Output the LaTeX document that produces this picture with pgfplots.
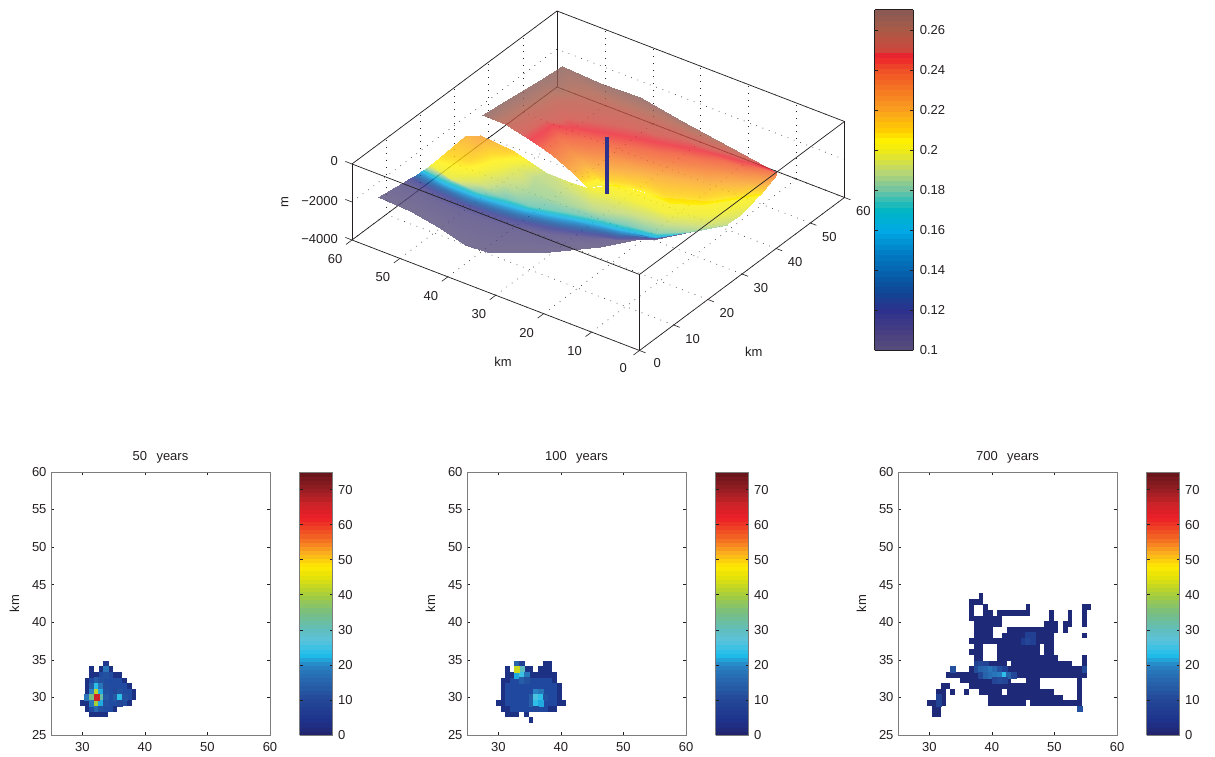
\documentclass[border=0pt]{standalone}
\usepackage{fontspec}
\setmainfont{Liberation Sans}
\usepackage{pgfplots}
\pgfplotsset{compat=1.18}
\definecolor{inkc}{RGB}{35,31,32}
\definecolor{boxgrey}{RGB}{125,125,125}
\pgfplotsset{
 colormap={topmap}{
  rgb255(100)=(88,78,122); rgb255(110)=(70,62,130); rgb255(120)=(45,48,140); rgb255(130)=(15,72,150);
  rgb255(140)=(5,100,175); rgb255(150)=(0,130,200); rgb255(160)=(0,170,230); rgb255(170)=(0,180,195);
  rgb255(175)=(50,190,180); rgb255(180)=(110,195,165); rgb255(190)=(190,215,110); rgb255(200)=(240,235,20);
  rgb255(205)=(255,240,0); rgb255(210)=(255,205,0); rgb255(220)=(250,160,30); rgb255(230)=(245,120,35);
  rgb255(240)=(240,80,40); rgb255(247)=(235,30,45); rgb255(250)=(205,70,60); rgb255(260)=(170,90,70); rgb255(270)=(135,90,85)},
 colormap={botmap}{
  rgb255(0)=(35,35,105); rgb255(4)=(30,50,140); rgb255(10)=(35,70,150); rgb255(17)=(40,110,180);
  rgb255(20)=(40,130,195); rgb255(23)=(30,190,235); rgb255(27)=(90,195,220); rgb255(30)=(95,190,190);
  rgb255(35)=(120,190,130); rgb255(40)=(165,205,60); rgb255(45)=(225,225,10); rgb255(48)=(255,235,0);
  rgb255(52)=(250,175,30); rgb255(55)=(245,125,35); rgb255(58)=(240,80,35); rgb255(62)=(235,30,40);
  rgb255(66)=(205,35,40); rgb255(70)=(150,30,35); rgb255(75)=(100,20,25)},
 mytxt/.style={tick label style={font=\fontsize{13}{15}\selectfont, text=inkc, /pgf/number format/assume math mode=true},
   label style={font=\fontsize{13}{15}\selectfont, text=inkc}, title style={font=\fontsize{13}{15}\selectfont, text=inkc}},
 mypanel/.style={mytxt, scale only axis, width=219pt, height=263pt, xmin=25, xmax=60, ymin=25, ymax=60,
   xtick={30,40,50,60}, ytick={25,30,...,60}, tick align=inside, major tick length=3pt,
   axis line style={boxgrey, line width=0.8pt}, tick style={inkc, line width=0.5pt},
   xticklabel style={yshift=-4pt}, yticklabel style={xshift=-1pt},
   ylabel=km, ylabel style={at={(axis description cs:-0.129,0.5)}}, title style={at={(axis description cs:0.5,0.998)}},
   clip=false, colormap name=botmap, point meta min=0, point meta max=75,
   colorbar, colorbar sampled,
   colorbar style={samples=65, mytxt, at={(parent axis.south east)}, anchor=south west, xshift=21pt, width=33pt, height=263pt,
     ytick={0,10,...,70}, ymin=0, ymax=75, tick align=inside, major tick length=3pt, yticklabel pos=right, yticklabel style={xshift=2pt},
     axis line style={boxgrey, line width=0.8pt}, tick style={inkc, line width=0.5pt}, ylabel={}, title={}}},
 heatcell/.style={scatter, only marks, mark=square*, mark size=2.4pt, mark options={yscale=1.2},
   scatter/use mapped color={draw=mapped color, fill=mapped color}, point meta=\thisrow{v}},
 heatrun/.style={no marks, line width=5.8pt, line cap=butt, unbounded coords=jump, forget plot},
}
\begin{document}
\begin{tikzpicture}
\useasboundingbox (0,0) rectangle (1215pt,757pt);
% ---------- 3D panel ----------
\begin{axis}[mytxt, at={(639.5pt,482.5pt)}, anchor=origin,
  x={(3.4167pt,2.55pt)}, y={(-4.7917pt,1.8417pt)}, z={(0pt,0.019pt)},
  xmin=0, xmax=60, ymin=0, ymax=60, zmin=-4000, zmax=0,
  xtick={0,10,...,60}, ytick={0,10,...,60}, ztick={-4000,-2000,0}, zticklabels={−4000,−2000,0},
  axis lines=box, 3d box=complete, tick align=outside, major tick length=6pt, clip=false,
  xtick pos=left, ytick pos=left, ztick pos=left,
  xticklabel style={xshift=6pt, yshift=-1pt}, yticklabel style={xshift=-7pt, yshift=-5pt}, zticklabel style={xshift=-5pt, yshift=2pt},
  xmajorgrids, ymajorgrids, zmajorgrids, major grid style={inkc, line width=0.6pt, dash pattern=on 0.7pt off 6pt},
  axis line style={inkc, line width=0.7pt}, tick style={draw=none},
  colormap name=topmap, point meta min=0.1, point meta max=0.27,
  colorbar, colorbar sampled,
  colorbar style={samples=65, mytxt, at={(parent axis.south east)}, anchor=south west, xshift=21.8pt, width=38.4pt, height=340.7pt,
     ytick={0.1,0.12,...,0.26}, yticklabels={0.1,0.12,0.14,0.16,0.18,0.2,0.22,0.24,0.26}, ymin=0.1, ymax=0.27, tick align=inside, major tick length=3pt, yticklabel pos=right, yticklabel style={xshift=3pt},
     axis line style={inkc, line width=0.8pt}, tick style={inkc, line width=0.5pt}, ylabel={}, title={}},
]
% lower lobe and slope
\addplot3[surf, shader=interp, mesh/cols=11, opacity=0.8, z buffer=default, point meta=\thisrow{c}] table {
x y z c
26.51 55.33 -1632 0.218
28.26 53.44 -1632 0.222
27.57 46.26 -1632 0.212
26.25 41.57 -1632 0.200
25.10 37.20 -1632 0.190
25.06 32.37 -1632 0.195
25.29 28.78 -1632 0.200
29.01 25.81 -1632 0.205
30.13 17.21 -1632 0.205
34.06 9.58 -1632 0.205
41.11 4.17 -1632 0.205
19.37 55.44 -1789 0.208
21.58 50.76 -1789 0.210
24.06 47.32 -1789 0.205
24.50 43.45 -1789 0.198
23.38 38.49 -1789 0.188
23.26 32.13 -1789 0.190
24.20 27.59 -1789 0.195
27.16 22.40 -1789 0.200
27.52 14.30 -1789 0.200
31.47 7.73 -1789 0.200
38.50 3.97 -1789 0.200
17.34 56.09 -2000 0.200
15.97 50.94 -2000 0.197
17.65 45.87 -2000 0.193
20.14 42.43 -2000 0.190
20.30 37.32 -2000 0.185
20.93 30.47 -2000 0.185
22.10 25.05 -2000 0.188
24.55 19.49 -2000 0.190
26.27 12.77 -2000 0.192
29.17 7.13 -2000 0.192
35.24 4.15 -2000 0.195
17.36 57.14 -2316 0.180
16.74 51.49 -2316 0.178
16.67 45.60 -2316 0.178
17.81 40.77 -2316 0.178
18.23 35.85 -2316 0.178
20.16 29.92 -2316 0.178
21.58 24.68 -2316 0.178
22.76 19.26 -2316 0.178
23.87 13.37 -2316 0.180
27.67 9.19 -2316 0.185
33.17 5.39 -2316 0.190
16.96 57.69 -2421 0.160
15.98 51.98 -2421 0.160
15.92 46.10 -2421 0.160
16.53 40.91 -2421 0.160
17.21 36.17 -2421 0.160
19.08 29.78 -2421 0.160
20.51 24.54 -2421 0.160
21.69 19.11 -2421 0.160
23.15 13.27 -2421 0.160
27.93 9.38 -2421 0.180
33.43 5.58 -2421 0.185
16.46 58.38 -2632 0.135
15.74 52.86 -2632 0.135
15.33 46.92 -2632 0.135
15.78 41.41 -2632 0.135
16.45 36.67 -2632 0.135
18.16 29.97 -2632 0.135
20.06 24.63 -2632 0.135
21.49 19.39 -2632 0.135
24.06 13.92 -2632 0.140
28.96 10.11 -2632 0.175
34.47 6.32 -2632 0.180
16.13 59.40 -2842 0.118
15.05 53.83 -2842 0.118
14.63 47.89 -2842 0.118
14.83 42.19 -2842 0.118
15.44 36.99 -2842 0.118
17.15 30.29 -2842 0.118
19.34 24.53 -2842 0.118
21.19 19.80 -2842 0.118
24.97 14.56 -2842 0.120
30.00 10.85 -2842 0.160
35.50 7.05 -2842 0.175
15.07 60.31 -3053 0.106
14.25 54.93 -3053 0.106
13.58 48.81 -3053 0.106
13.77 43.10 -3053 0.106
14.23 37.59 -3053 0.106
16.40 30.79 -3053 0.106
19.14 24.81 -3053 0.106
21.70 20.17 -3053 0.106
25.87 15.21 -3053 0.110
31.03 11.59 -3053 0.110
36.54 7.79 -3053 0.110
11.13 62.51 -3474 0.100
10.69 55.52 -3474 0.100
9.27 48.25 -3474 0.100
7.36 41.67 -3474 0.100
7.74 37.35 -3474 0.100
12.75 29.86 -3474 0.100
20.27 22.70 -3474 0.100
25.56 19.17 -3474 0.100
28.14 16.42 -3474 0.100
33.11 13.07 -3474 0.100
38.61 9.27 -3474 0.100
};
% upper slope
\addplot3[surf, shader=interp, mesh/cols=9, opacity=0.8, z buffer=default, point meta=\thisrow{c}] table {
x y z c
27.17 52.25 -316 0.270
34.36 51.53 -316 0.270
42.00 50.72 -316 0.270
47.81 50.27 -316 0.270
47.19 41.90 -316 0.270
47.55 33.80 -316 0.270
45.58 24.05 -316 0.268
43.56 12.17 -316 0.262
41.67 1.23 -316 0.250
28.42 48.34 -579 0.256
33.82 47.38 -579 0.256
39.61 45.88 -579 0.256
41.90 42.71 -579 0.256
43.98 37.11 -579 0.256
44.40 29.47 -579 0.256
44.49 21.19 -579 0.256
44.06 11.48 -579 0.254
42.96 2.15 -579 0.247
27.78 41.63 -842 0.245
34.13 42.60 -842 0.247
35.60 39.48 -842 0.247
36.63 36.45 -842 0.247
38.31 31.39 -842 0.247
40.18 25.00 -842 0.247
42.39 17.60 -842 0.247
43.72 9.78 -842 0.247
44.25 3.07 -842 0.245
27.66 37.98 -1105 0.235
31.55 38.04 -1105 0.235
32.76 34.74 -1105 0.235
34.23 31.61 -1105 0.235
35.42 27.24 -1105 0.235
37.61 21.50 -1105 0.235
40.30 15.07 -1105 0.235
42.99 8.63 -1105 0.235
45.13 3.49 -1105 0.235
26.54 33.02 -1368 0.220
29.65 32.52 -1368 0.220
30.37 29.90 -1368 0.220
31.84 26.78 -1368 0.220
33.55 22.77 -1368 0.220
35.24 17.72 -1368 0.220
37.68 12.16 -1368 0.220
40.91 7.16 -1368 0.220
44.37 3.99 -1368 0.225
25.29 28.78 -1632 0.200
27.26 27.68 -1632 0.200
28.49 25.44 -1632 0.205
29.46 23.00 -1632 0.205
29.93 20.19 -1632 0.205
29.56 14.72 -1632 0.205
32.03 10.22 -1632 0.205
36.31 7.00 -1632 0.205
40.59 3.80 -1632 0.205
};
\addplot3[line width=4pt, line cap=butt, color={rgb,255:red,45;green,50;blue,140}] coordinates {(34.8,31.6,-500) (34.8,31.6,-3500)};
% outward tick marks on the three labelled edges
\addplot3[no marks, inkc, line width=0.6pt, unbounded coords=jump, forget plot] coordinates {
(0,0,-4000)(-1.76,0,-4000)(nan,nan,nan)
(0,10,-4000)(-1.76,10,-4000)(nan,nan,nan)
(0,20,-4000)(-1.76,20,-4000)(nan,nan,nan)
(0,30,-4000)(-1.76,30,-4000)(nan,nan,nan)
(0,40,-4000)(-1.76,40,-4000)(nan,nan,nan)
(0,50,-4000)(-1.76,50,-4000)(nan,nan,nan)
(0,60,-4000)(-1.76,60,-4000)(nan,nan,nan)
(0,0,-4000)(0,-1.25,-4000)(nan,nan,nan)
(10,0,-4000)(10,-1.25,-4000)(nan,nan,nan)
(20,0,-4000)(20,-1.25,-4000)(nan,nan,nan)
(30,0,-4000)(30,-1.25,-4000)(nan,nan,nan)
(40,0,-4000)(40,-1.25,-4000)(nan,nan,nan)
(50,0,-4000)(50,-1.25,-4000)(nan,nan,nan)
(60,0,-4000)(60,-1.25,-4000)(nan,nan,nan)
(0,60,-4000)(0,61.4,-4000)(nan,nan,nan)
(0,60,-2000)(0,61.4,-2000)(nan,nan,nan)
(0,60,0)(0,61.4,0)};
\node[font=\fontsize{13}{15}\selectfont, text=inkc] at (axis cs:11,-16,-4000) {km};
\node[font=\fontsize{13}{15}\selectfont, text=inkc] at (axis cs:-16.56,16.68,-4000) {km};
\node[font=\fontsize{13}{15}\selectfont, text=inkc, rotate=90] at (axis cs:3.17,76.25,-4000) {m};
\end{axis}
% ---------- 50 years ----------
\begin{axis}[mypanel, at={(51pt,22pt)}, anchor=south west, title={50\ \ \,years}]
\addplot[heatrun, color={rgb,255:red,28;green,48;blue,132}] coordinates {
(33.375,34.5)(34.125,34.5)(nan,nan)
(31.125,33.75)(31.875,33.75)(nan,nan)(32.625,33.75)(34.875,33.75)(nan,nan)
(31.125,33)(36.375,33)(nan,nan)
(30.375,32.25)(37.125,32.25)(nan,nan)
(30.375,31.5)(37.875,31.5)(nan,nan)
(30.375,30.75)(38.625,30.75)(nan,nan)
(30.375,30)(38.625,30)(nan,nan)
(29.625,29.25)(37.875,29.25)(nan,nan)
(30.375,28.5)(35.625,28.5)(nan,nan)
(31.125,27.75)(34.125,27.75)};
\addplot[heatrun, color={rgb,255:red,32;green,75;blue,160}] coordinates {
(32.625,33)(34.875,33)(nan,nan)
(31.125,32.25)(36.375,32.25)(nan,nan)
(31.125,31.5)(37.125,31.5)(nan,nan)
(31.125,30.75)(37.875,30.75)(nan,nan)
(31.125,30)(37.875,30)(nan,nan)
(31.125,29.25)(37.125,29.25)(nan,nan)
(31.125,28.5)(34.875,28.5)};
\addplot[heatcell] table {
x y v
33.75 34.5 6
33.75 33.75 18
33.75 33 12
32.25 32.25 14
33 32.25 12
31.5 31.5 14
32.25 31.5 24
33 31.5 18
33.75 31.5 11
31.5 30.75 20
32.25 30.75 42
33 30.75 22
33.75 30.75 12
35.25 30.75 10
36 30.75 12
30.75 30 18
31.5 30 35
33 30 32
33.75 30 13
35.25 30 13
36 30 24
36.75 30 12
31.5 29.25 18
32.25 29.25 40
33 29.25 22
33.75 29.25 12
36 29.25 10
32.25 28.5 16
33 28.5 12
32.25 30 66
};
\end{axis}
% ---------- 100 years ----------
\begin{axis}[mypanel, at={(467pt,22pt)}, anchor=south west, title={100\ \ \,years}]
\addplot[heatrun, color={rgb,255:red,28;green,48;blue,132}] coordinates {
(32.625,34.5)(34.125,34.5)(nan,nan)(37.125,34.5)(38.625,34.5)(nan,nan)
(31.125,33.75)(31.875,33.75)(nan,nan)(32.625,33.75)(35.625,33.75)(nan,nan)(36.375,33.75)(38.625,33.75)(nan,nan)
(31.125,33)(39.375,33)(nan,nan)
(30.375,32.25)(39.375,32.25)(nan,nan)
(30.375,31.5)(40.125,31.5)(nan,nan)
(30.375,30.75)(40.125,30.75)(nan,nan)
(30.375,30)(40.125,30)(nan,nan)
(29.625,29.25)(40.875,29.25)(nan,nan)
(30.375,28.5)(39.375,28.5)(nan,nan)
(31.125,27.75)(33.375,27.75)(nan,nan)(34.125,27.75)(34.875,27.75)(nan,nan)
(34.875,27)(35.625,27)};
\addplot[heatrun, color={rgb,255:red,32;green,72;blue,158}] coordinates {
(31.875,32.25)(38.625,32.25)(nan,nan)
(31.125,31.5)(39.375,31.5)(nan,nan)
(31.125,30.75)(39.375,30.75)(nan,nan)
(31.125,30)(39.375,30)(nan,nan)
(31.125,29.25)(39.375,29.25)(nan,nan)
(31.875,28.5)(37.875,28.5)};
\addplot[heatcell] table {
x y v
33 34.5 15
33.75 34.5 8
33.75 33.75 30
33 33 22
33.75 33 25
34.5 33 18
33.75 32.25 14
34.5 32.25 12
36 30.75 20
36.75 30.75 18
35.25 30 14
36 30 26
36.75 30 24
37.5 30 12
35.25 29.25 14
36 29.25 24
36.75 29.25 22
36 28.5 10
33 33.75 43
};
\end{axis}
% ---------- 700 years ----------
\begin{axis}[mypanel, at={(898pt,22pt)}, anchor=south west, title={700\ \ \,years}]
\addplot[heatrun, color={rgb,255:red,30;green,42;blue,120}] coordinates {
(37.875,43.5)(38.625,43.5)(nan,nan)
(36.375,42.75)(38.625,42.75)(nan,nan)
(36.375,42)(37.125,42)(nan,nan)(38.625,42)(39.375,42)(nan,nan)(45.375,42)(46.125,42)(nan,nan)(54.375,42)(55.875,42)(nan,nan)
(36.375,41.25)(37.125,41.25)(nan,nan)(38.625,41.25)(40.125,41.25)(nan,nan)(40.875,41.25)(46.125,41.25)(nan,nan)(49.125,41.25)(49.875,41.25)(nan,nan)(52.125,41.25)(52.875,41.25)(nan,nan)(54.375,41.25)(55.125,41.25)(nan,nan)
(36.375,40.5)(41.625,40.5)(nan,nan)(49.125,40.5)(49.875,40.5)(nan,nan)(52.125,40.5)(52.875,40.5)(nan,nan)(54.375,40.5)(55.125,40.5)(nan,nan)
(37.125,39.75)(41.625,39.75)(nan,nan)(48.375,39.75)(50.625,39.75)(nan,nan)(51.375,39.75)(52.875,39.75)(nan,nan)(54.375,39.75)(55.125,39.75)(nan,nan)
(37.125,39)(40.125,39)(nan,nan)(42.375,39)(50.625,39)(nan,nan)(51.375,39)(52.125,39)(nan,nan)
(37.125,38.25)(40.125,38.25)(nan,nan)(41.625,38.25)(49.875,38.25)(nan,nan)(54.375,38.25)(55.125,38.25)(nan,nan)
(36.375,37.5)(49.875,37.5)(nan,nan)
(37.125,36.75)(38.625,36.75)(nan,nan)(40.875,36.75)(47.625,36.75)(nan,nan)(48.375,36.75)(49.875,36.75)(nan,nan)
(36.375,36)(38.625,36)(nan,nan)(40.875,36)(47.625,36)(nan,nan)(48.375,36)(49.875,36)(nan,nan)
(37.125,35.25)(38.625,35.25)(nan,nan)(40.875,35.25)(50.625,35.25)(nan,nan)(54.375,35.25)(55.125,35.25)(nan,nan)
(37.125,34.5)(42.375,34.5)(nan,nan)(43.125,34.5)(52.875,34.5)(nan,nan)(54.375,34.5)(55.125,34.5)(nan,nan)
(33.375,33.75)(34.125,33.75)(nan,nan)(36.375,33.75)(55.125,33.75)(nan,nan)
(32.625,33)(55.125,33)(nan,nan)
(34.875,32.25)(43.125,32.25)(nan,nan)(45.375,32.25)(47.625,32.25)(nan,nan)(53.625,32.25)(54.375,32.25)(nan,nan)
(31.875,31.5)(33.375,31.5)(nan,nan)(36.375,31.5)(47.625,31.5)(nan,nan)(53.625,31.5)(54.375,31.5)(nan,nan)
(31.125,30.75)(32.625,30.75)(nan,nan)(33.375,30.75)(34.125,30.75)(nan,nan)(35.625,30.75)(36.375,30.75)(nan,nan)(37.875,30.75)(41.625,30.75)(nan,nan)(42.375,30.75)(49.875,30.75)(nan,nan)(53.625,30.75)(54.375,30.75)(nan,nan)
(31.125,30)(32.625,30)(nan,nan)(39.375,30)(51.375,30)(nan,nan)(53.625,30)(54.375,30)(nan,nan)
(29.625,29.25)(32.625,29.25)(nan,nan)(39.375,29.25)(45.375,29.25)(nan,nan)(46.125,29.25)(54.375,29.25)(nan,nan)
(30.375,28.5)(31.875,28.5)(nan,nan)(53.625,28.5)(54.375,28.5)(nan,nan)
(30.375,27.75)(31.875,27.75)};
\addplot[heatcell] table {
x y v
37.5 34.5 8
38.25 34.5 10
39 34.5 9
37.5 33.75 11
38.25 33.75 15
39 33.75 16
39.75 33.75 18
40.5 33.75 16
41.25 33.75 12
42 33.75 8
38.25 33 10
39 33 15
39.75 33 17
40.5 33 18
41.25 33 19
42 33 24
42.75 33 15
43.5 33 10
40.5 32.25 10
41.25 32.25 11
42 32.25 10
45.75 38.25 8
46.5 38.25 8
45 37.5 7
45.75 37.5 10
46.5 37.5 8
31.5 30 9
31.5 29.25 9
54 28.5 12
54.75 33.75 11
33.75 33.75 12
};
\end{axis}
\end{tikzpicture}
\end{document}
